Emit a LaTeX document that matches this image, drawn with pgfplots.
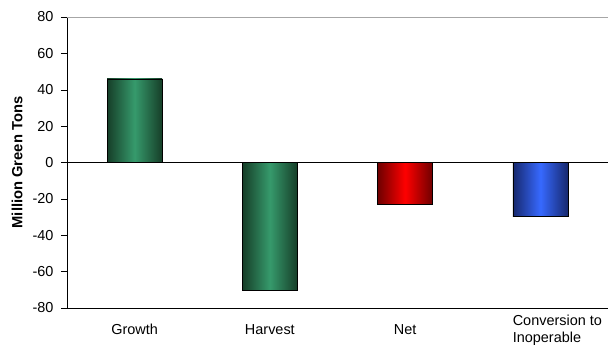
\documentclass[border=0pt]{standalone}
\usepackage{pgfplots}
\pgfplotsset{compat=1.18}
\usepackage{fontspec}
\setmainfont{Liberation Sans}
\definecolor{gdark}{RGB}{22,62,40}
\definecolor{glight}{RGB}{54,154,108}
\definecolor{rdark}{RGB}{110,0,0}
\definecolor{rlight}{RGB}{255,0,0}
\definecolor{bdark}{RGB}{22,40,110}
\definecolor{blight}{RGB}{55,105,255}
\begin{document}
\begin{tikzpicture}
\begin{axis}[
  scale only axis,
  width=541bp, height=291bp,
  xmin=-0.5, xmax=3.5,
  ymin=-80, ymax=80,
  ytick={-80,-60,...,80},
  xtick={0,1,2},
  xticklabels={Growth,Harvest,Net},
  extra x ticks={3},
  extra x tick labels={{Conversion to\\Inoperable}},
  extra x tick style={xticklabel style={align=left, anchor=north, inner sep=0pt, xshift=17bp, yshift=9bp}},
  axis x line*=bottom,
  axis y line*=left,
  x axis line style={-},
  y axis line style={-},
  major tick length=6bp,
  x tick style={draw=none},
  ytick style={black, thin},
  tick align=outside,
  /pgf/number format/assume math mode=true,
  tick label style={font=\fontsize{14.5}{16.5}\selectfont},
  yticklabel style={xshift=-4bp},
  xticklabel style={anchor=north, inner sep=0pt, yshift=-10bp},
  ylabel={Million Green Tons},
  ylabel style={font=\fontsize{14.8}{17}\selectfont\bfseries, at={(axis description cs:-0.0924,0.5)}, anchor=center},
  ybar, bar width=55bp, bar shift=0pt,
  clip=false,
]
\addplot[draw=black, thin, left color=gdark, right color=gdark, middle color=glight] coordinates {(0,46)};
\addplot[draw=black, thin, left color=gdark, right color=gdark, middle color=glight] coordinates {(1,-70)};
\addplot[draw=black, thin, left color=rdark, right color=rdark, middle color=rlight] coordinates {(2,-23)};
\addplot[draw=black, thin, left color=bdark, right color=bdark, middle color=blight] coordinates {(3,-29.5)};
\draw[black, thin] (axis cs:-0.5,0) -- (axis cs:3.5,0);
\draw[gray!70, thin] (rel axis cs:0,1) -- (rel axis cs:1,1);
\end{axis}
\pgfresetboundingbox
\path ([shift={(-67bp,-38bp)}]current axis.south west) rectangle ([shift={(0bp,17bp)}]current axis.north east);
\end{tikzpicture}
\end{document}
